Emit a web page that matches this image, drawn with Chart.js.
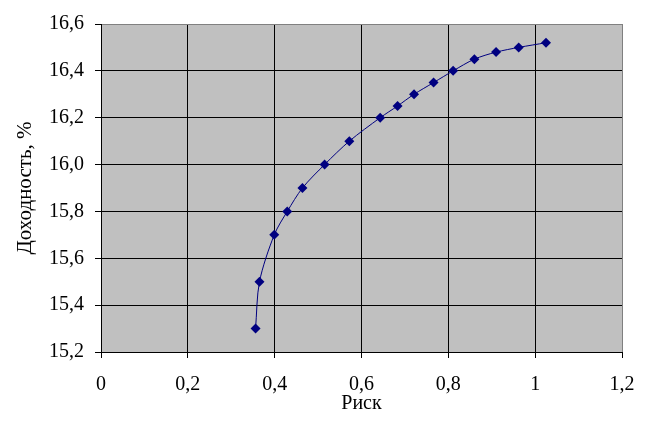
<!DOCTYPE html>
<html>
<head>
<meta charset="utf-8">
<script src="https://cdn.jsdelivr.net/npm/chart.js@4.4.1/dist/chart.umd.min.js"></script>
<style>
  html, body { margin: 0; padding: 0; background: #fff; }
  #wrap { width: 653px; height: 428px; }
</style>
</head>
<body>
<div id="wrap"><canvas id="c" width="653" height="428"></canvas></div>
<script>
// риск (x) и доходность (y)
var risk = [0.356, 0.365, 0.399, 0.429, 0.464, 0.515, 0.572, 0.643, 0.683, 0.721, 0.766, 0.811, 0.860, 0.910, 0.962, 1.025];
var returns = [15.30, 15.50, 15.70, 15.80, 15.90, 16.00, 16.10, 16.20, 16.25, 16.30, 16.35, 16.40, 16.45, 16.48, 16.50, 16.52];
var xTicks = [0, 0.2, 0.4, 0.6, 0.8, 1, 1.2];
var yTicks = [15.2, 15.4, 15.6, 15.8, 16.0, 16.2, 16.4, 16.6];

var points = risk.map(function (x, i) { return { x: x, y: returns[i] }; });

// серый фон области построения
var plotBg = {
    id: 'plotBg',
    beforeDraw: function (chart) {
        var a = chart.chartArea, ctx = chart.ctx;
        ctx.save();
        ctx.fillStyle = '#ffffff';
        ctx.fillRect(0, 0, chart.width, chart.height);
        ctx.fillStyle = '#c0c0c0';
        ctx.fillRect(a.left, a.top, a.right - a.left, a.bottom - a.top);
        ctx.restore();
    }
};

var family = '"Liberation Serif", "Times New Roman", serif';
var font = { family: family, size: 20 };

var ctx = document.getElementById('c').getContext('2d');
new Chart(ctx, {
    type: 'scatter',
    data: {
        datasets: [{
            data: points,
            showLine: true,
            borderColor: '#000080',
            borderWidth: 1,
            backgroundColor: '#000080',
            pointStyle: 'rectRot',
            pointRadius: 5,
            pointBorderWidth: 0,
            tension: 0.3
        }]
    },
    options: {
        responsive: false,
        animation: false,
        layout: { padding: { top: 24, right: 31, left: 0, bottom: 0 } },
        plugins: { legend: { display: false }, tooltip: { enabled: false } },
        scales: {
            x: {
                type: 'linear',
                min: 0, max: 1.2,
                afterBuildTicks: function (s) { s.ticks = xTicks.map(function (v) { return { value: v }; }); },
                afterFit: function (s) { s.height = 76; },
                grid: {
                    color: function (c) { return c.index === xTicks.length - 1 ? '#808080' : '#000000'; },
                    tickColor: '#000000',
                    tickLength: 6,
                    lineWidth: 1
                },
                border: { color: '#000000', width: 1 },
                ticks: {
                    color: '#000000',
                    font: font,
                    padding: 15,
                    maxRotation: 0,
                    callback: function (v) { return String(Math.round(v * 10) / 10).replace('.', ','); }
                },
                title: { display: true, text: 'Риск', color: '#000000', font: font, padding: { top: 0, bottom: 12 } }
            },
            y: {
                min: 15.2, max: 16.6,
                afterBuildTicks: function (s) { s.ticks = yTicks.map(function (v) { return { value: v }; }); },
                afterFit: function (s) { s.width = 101; },
                grid: {
                    color: function (c) { return c.index === yTicks.length - 1 ? '#808080' : '#000000'; },
                    tickColor: '#000000',
                    tickLength: 6,
                    lineWidth: 1
                },
                border: { color: '#000000', width: 1 },
                ticks: {
                    color: '#000000',
                    font: font,
                    padding: 11,
                    callback: function (v) { return v.toFixed(1).replace('.', ','); }
                },
                title: { display: true, text: 'Доходность, %', color: '#000000', font: { family: family, size: 21 }, padding: { top: 13, bottom: 0 } }
            }
        }
    },
    plugins: [plotBg]
});
</script>
</body>
</html>
